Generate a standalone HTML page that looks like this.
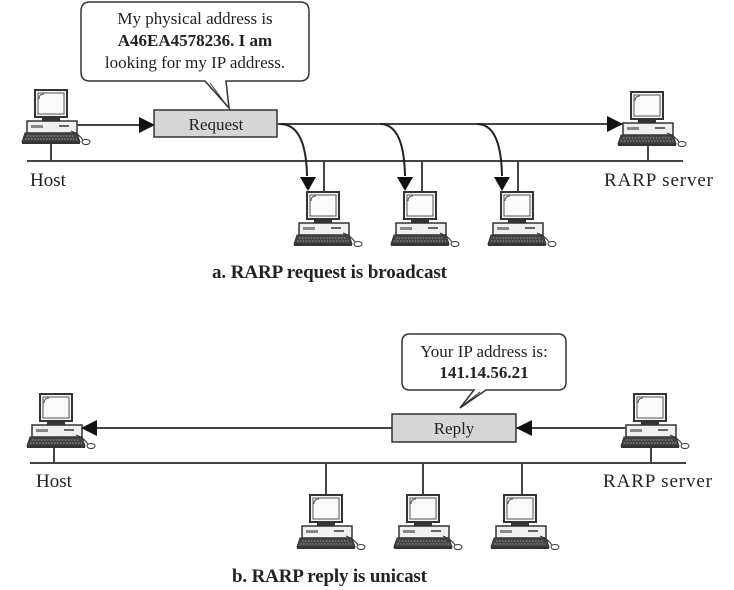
<!DOCTYPE html>
<html><head><meta charset="utf-8"><style>
html,body{margin:0;padding:0;background:#fff;}
svg{display:block;}
text{font-family:"Liberation Serif",serif;fill:#222;}
</style></head><body>
<svg width="734" height="590" viewBox="0 0 734 590" xmlns="http://www.w3.org/2000/svg">
<defs>
<g id="pc">
  <rect x="-16" y="0" width="32" height="27" fill="#f4f4f4" stroke="#333" stroke-width="2"/>
  <rect x="-13" y="3" width="26" height="21" fill="#fafafa" stroke="#555" stroke-width="1"/>
  <path d="M-12 9 Q-12 4 -7 4" stroke="#555" fill="none"/>
  <rect x="-9" y="27" width="18" height="4" fill="#333"/>
  <rect x="-24" y="31" width="50" height="12" fill="#f0f0f0" stroke="#333" stroke-width="1.5"/>
  <rect x="-20" y="35" width="12" height="3" fill="#888"/>
  <rect x="8" y="35" width="10" height="2" fill="#666"/>
  <polygon points="-26,43 26,43 29,52 -29,52" fill="#444" stroke="#333"/>
  <path d="M-24 46 H24 M-26 49 H26" stroke="#999" stroke-width="1" stroke-dasharray="1.5,1.5"/>
  <rect x="-29" y="52" width="58" height="2" fill="#333"/>
  <path d="M20 41 Q28 44 32 50" stroke="#333" fill="none"/>
  <ellipse cx="35" cy="52" rx="4" ry="2.5" fill="#fff" stroke="#333"/>
</g>
<marker id="ahb" markerWidth="16" markerHeight="16" refX="15" refY="8" orient="auto" markerUnits="userSpaceOnUse">
  <polygon points="0,0 16,8 0,16" fill="#111"/>
</marker>
</defs>

<!-- ===== Part a ===== -->
<line x1="27" y1="161" x2="683" y2="161" stroke="#444" stroke-width="2"/>
<line x1="51" y1="144" x2="51" y2="161" stroke="#444" stroke-width="2"/>
<line x1="648" y1="144" x2="648" y2="161" stroke="#444" stroke-width="2"/>
<line x1="324" y1="161" x2="324" y2="192" stroke="#444" stroke-width="2"/>
<line x1="422" y1="161" x2="422" y2="192" stroke="#444" stroke-width="2"/>
<line x1="518" y1="161" x2="518" y2="192" stroke="#444" stroke-width="2"/>

<use href="#pc" x="51" y="90"/>
<use href="#pc" x="647" y="92"/>
<use href="#pc" x="323" y="192"/>
<use href="#pc" x="420" y="192"/>
<use href="#pc" x="517" y="192"/>

<path d="M90 2 H300 Q309 2 309 11 V72 Q309 81 300 81 H226 L229 108 L205 81 H90 Q81 81 81 72 V11 Q81 2 90 2 Z" fill="#fff" stroke="#333" stroke-width="1.5"/>
<line x1="210" y1="83" x2="227" y2="106" stroke="#333" stroke-width="1"/>
<text x="195" y="24" text-anchor="middle" font-size="17">My physical address is</text>
<text x="195" y="46" text-anchor="middle" font-size="17" font-weight="bold">A46EA4578236.  I am</text>
<text x="195" y="68" text-anchor="middle" font-size="17">looking for my IP address.</text>

<line x1="77" y1="125" x2="154" y2="125" stroke="#444" stroke-width="2" marker-end="url(#ahb)"/>
<rect x="154" y="110" width="123" height="27" fill="#d6d6d6" stroke="#333" stroke-width="1.5"/>
<text x="216" y="130" text-anchor="middle" font-size="17">Request</text>
<line x1="277" y1="124" x2="622" y2="124" stroke="#444" stroke-width="2" marker-end="url(#ahb)"/>
<path d="M280 124 Q306 124 307 176" fill="none" stroke="#222" stroke-width="2"/>
<polygon points="300,177 316,177 308,191" fill="#111"/>
<path d="M380 124 Q404 124 405 176" fill="none" stroke="#222" stroke-width="2"/>
<polygon points="397,177 413,177 405,191" fill="#111"/>
<path d="M477 124 Q501 124 502 176" fill="none" stroke="#222" stroke-width="2"/>
<polygon points="494,177 510,177 502,191" fill="#111"/>

<text x="30" y="186" font-size="19">Host</text>
<text x="604" y="186" font-size="19" textLength="109">RARP server</text>
<text x="212" y="278" font-size="19" font-weight="bold" textLength="235">a. RARP request is broadcast</text>

<!-- ===== Part b ===== -->
<line x1="30" y1="463" x2="686" y2="463" stroke="#444" stroke-width="2"/>
<line x1="54" y1="447" x2="54" y2="463" stroke="#444" stroke-width="2"/>
<line x1="651" y1="446" x2="651" y2="463" stroke="#444" stroke-width="2"/>
<line x1="326" y1="463" x2="326" y2="495" stroke="#444" stroke-width="2"/>
<line x1="423" y1="463" x2="423" y2="495" stroke="#444" stroke-width="2"/>
<line x1="522" y1="463" x2="522" y2="495" stroke="#444" stroke-width="2"/>

<use href="#pc" x="56" y="394"/>
<use href="#pc" x="650" y="394"/>
<use href="#pc" x="326" y="495"/>
<use href="#pc" x="423" y="495"/>
<use href="#pc" x="520" y="495"/>

<path d="M410 334 H558 Q566 334 566 342 V382 Q566 390 558 390 H486 L460 408 L474 390 H410 Q402 390 402 382 V342 Q402 334 410 334 Z" fill="#fff" stroke="#333" stroke-width="1.5"/>
<line x1="480" y1="392" x2="462" y2="406" stroke="#333" stroke-width="1"/>
<text x="484" y="357" text-anchor="middle" font-size="17">Your IP address is:</text>
<text x="484" y="378" text-anchor="middle" font-size="17" font-weight="bold">141.14.56.21</text>

<line x1="392" y1="428" x2="82" y2="428" stroke="#444" stroke-width="2" marker-end="url(#ahb)"/>
<rect x="392" y="414" width="124" height="28" fill="#d6d6d6" stroke="#333" stroke-width="1.5"/>
<text x="454" y="434" text-anchor="middle" font-size="17">Reply</text>
<line x1="626" y1="428" x2="517" y2="428" stroke="#444" stroke-width="2" marker-end="url(#ahb)"/>

<text x="36" y="487" font-size="19">Host</text>
<text x="603" y="487" font-size="19" textLength="109">RARP server</text>
<text x="232" y="582" font-size="19" font-weight="bold" textLength="195">b. RARP reply is unicast</text>
</svg>
</body></html>
